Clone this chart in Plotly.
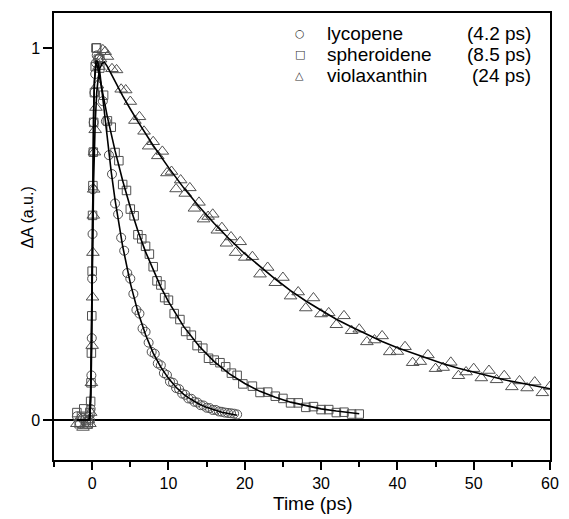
import plotly.graph_objects as go

# ---------------- data ----------------
lyc_t = [-2.0, -1.6, -1.2, -0.8, -0.5, -0.3, -0.2, -0.1, -0.05, 0.0, 0.05, 0.1, 0.15, 0.2, 0.3, 0.4, 0.5, 0.6, 0.8,
         1.0, 1.4, 1.8, 2.2, 2.6, 3.0, 3.4, 3.8, 4.2, 4.6, 5.0, 5.4, 5.8, 6.2, 6.6, 7.0, 7.4, 7.8, 8.2, 8.6,
         9.0, 9.4, 9.8, 10.2, 10.6, 11.0, 11.4, 11.8, 12.2, 12.6, 13.0, 13.4, 13.8, 14.2, 14.6, 15.0, 15.4,
         15.8, 16.2, 16.6, 17.0, 17.4, 17.8, 18.2, 18.6, 19.0]
lyc_v = [0.01, -0.01, 0.005, -0.005, 0.01, 0.0, 0.03, 0.12, 0.22, 0.38, 0.5, 0.62, 0.72, 0.8, 0.88, 0.93, 0.96, 0.98, 0.97,
         0.974, 0.857, 0.803, 0.712, 0.661, 0.582, 0.553, 0.490, 0.455, 0.395, 0.380, 0.339, 0.296, 0.286, 0.246,
         0.237, 0.208, 0.183, 0.178, 0.152, 0.147, 0.126, 0.121, 0.103, 0.100, 0.086, 0.083, 0.071, 0.068, 0.058,
         0.057, 0.049, 0.047, 0.040, 0.039, 0.033, 0.032, 0.027, 0.027, 0.023, 0.022, 0.020, 0.019, 0.018, 0.017, 0.015]

sph_t = [-2.0, -1.7, -1.4, -1.1, -0.8, -0.5, -0.3, -0.2, -0.15, -0.1, -0.05, 0.0, 0.05, 0.1, 0.15, 0.2, 0.3, 0.4, 0.5, 0.6, 0.8,
         1.0, 1.5, 2.0, 2.5, 3.0, 3.5, 4.0, 4.5, 5.0, 5.5, 6.0, 6.5, 7.0, 7.5, 8.0, 8.5, 9.0, 9.5, 10.0,
         10.75, 11.5, 12.25, 13.0, 13.75, 14.5, 15.25, 16.0, 16.75, 17.5, 18.25, 19.0, 19.75,
         21, 22, 23, 24, 25, 26, 27, 28, 29, 30, 31, 32, 33, 34, 35]
sph_v = [0.02, -0.01, 0.01, 0.03, 0.0, -0.01, 0.02, 0.05, 0.1, 0.18, 0.28, 0.4, 0.55, 0.63, 0.72, 0.8, 0.88, 0.95, 1.0, 1.0, 0.97,
         0.946, 0.873, 0.804, 0.787, 0.719, 0.697, 0.633, 0.617, 0.567, 0.549, 0.498, 0.487, 0.467, 0.446, 0.412,
         0.374, 0.363, 0.329, 0.322, 0.286, 0.270, 0.238, 0.228, 0.200, 0.193, 0.166, 0.161, 0.154, 0.143, 0.126,
         0.120, 0.097, 0.091, 0.074, 0.075, 0.064, 0.058, 0.046, 0.046, 0.034, 0.036, 0.028, 0.028, 0.020, 0.021,
         0.016, 0.016]

vio_t = [-2.0, -1.6, -1.2, -0.8, -0.5, -0.3, -0.2, -0.1, 0.0, 0.05, 0.1, 0.15, 0.2, 0.3, 0.4, 0.5, 0.7, 0.9, 1.1, 1.4, 1.7,
         2.0, 2.6, 3.2, 3.8, 4.4, 5.0, 5.6, 6.2, 6.8, 7.4, 8.0, 8.6, 9.2, 9.8, 10.4, 11.0, 11.6, 12.2, 12.8, 13.4,
         14.0, 14.6, 15.2, 15.8, 16.4, 17.0, 17.6, 18.2, 18.8, 19.4, 20.0,
         21, 22, 23, 24, 25, 26, 27, 28, 29, 30, 31, 32, 33, 34, 35, 36, 37, 38, 39, 40,
         41, 42, 43, 44, 45, 46, 47, 48, 49, 50, 51, 52, 53, 54, 55, 56, 57, 58, 59, 60]
vio_v = [-0.01, 0.005, -0.02, -0.015, 0.0, -0.01, 0.02, 0.1, 0.2, 0.33, 0.45, 0.55, 0.62, 0.72, 0.78, 0.84, 0.9, 0.95, 0.97, 0.995, 0.99,
         0.977, 0.944, 0.941, 0.889, 0.887, 0.856, 0.805, 0.815, 0.776, 0.736, 0.748, 0.710, 0.722, 0.664, 0.668,
         0.621, 0.645, 0.609, 0.624, 0.569, 0.585, 0.540, 0.547, 0.553, 0.510, 0.517, 0.475, 0.492, 0.450, 0.479, 0.437,
         0.439, 0.392, 0.410, 0.369, 0.383, 0.333, 0.344, 0.301, 0.328, 0.285, 0.288, 0.256, 0.280, 0.240, 0.244,
         0.210, 0.215, 0.226, 0.183, 0.184, 0.197, 0.154, 0.157, 0.175, 0.138, 0.141, 0.155, 0.119, 0.129, 0.138,
         0.113, 0.133, 0.108, 0.119, 0.089, 0.105, 0.086, 0.102, 0.073, 0.090]

# fitted curves
lyc_fit_t = [-2, -0.4, -0.3, -0.2, -0.1, 0, 0.1, 0.2, 0.3, 0.4, 0.5, 0.7, 1.0, 1.5, 2, 2.5, 3, 4, 5, 6, 7, 8, 9, 10,
             11, 12, 13, 14, 15, 16, 17, 18, 19]
lyc_fit_v = [0, 0, 0.02, 0.07, 0.2, 0.45, 0.68, 0.83, 0.91, 0.95, 0.965, 0.965, 0.935, 0.846, 0.751, 0.667, 0.592,
             0.467, 0.368, 0.290, 0.229, 0.180, 0.142, 0.112, 0.088, 0.069, 0.055, 0.043, 0.034, 0.027, 0.021, 0.017, 0.013]

sph_fit_t = [-2, -0.4, -0.3, -0.2, -0.1, 0, 0.1, 0.2, 0.3, 0.4, 0.5, 0.7, 1.0, 1.5, 2, 3, 4, 5, 6, 7, 8, 9, 10,
             12, 14, 16, 18, 20, 22, 24, 26, 28, 30, 32, 34, 35]
sph_fit_v = [0, 0, 0.02, 0.07, 0.2, 0.45, 0.68, 0.83, 0.91, 0.95, 0.96, 0.95, 0.92, 0.866, 0.814, 0.724, 0.643,
             0.572, 0.508, 0.452, 0.402, 0.357, 0.318, 0.251, 0.199, 0.157, 0.124, 0.098, 0.077, 0.061, 0.048,
             0.038, 0.030, 0.024, 0.019, 0.017]

vio_fit_t = [-2, -0.4, -0.3, -0.2, -0.1, 0, 0.2, 0.4, 0.6, 0.8, 1.0, 1.3, 1.6, 2, 3, 4, 5, 6, 8, 10, 12, 14, 16,
             18, 20, 22, 24, 26, 28, 30, 32, 34, 36, 38, 40, 42, 44, 46, 48, 50, 52, 54, 56, 58, 60]
vio_fit_v = [0, 0, 0.0, 0.05, 0.15, 0.35, 0.65, 0.8, 0.88, 0.92, 0.945, 0.958, 0.962, 0.95, 0.909, 0.871, 0.836,
             0.802, 0.738, 0.679, 0.624, 0.574, 0.528, 0.486, 0.447, 0.412, 0.379, 0.348, 0.320, 0.295, 0.271,
             0.250, 0.230, 0.211, 0.194, 0.179, 0.165, 0.151, 0.139, 0.128, 0.118, 0.108, 0.100, 0.092, 0.084]

names = ["lycopene", "spheroidene", "violaxanthin"]
lifetimes = ["(4.2 ps)", "(8.5 ps)", "(24 ps)"]
legend_glyphs = ["○", "□", "△"]
x_ticks = [0, 10, 20, 30, 40, 50, 60]
y_ticks = [0, 1]

# ---------------- figure ----------------
FONT = "Liberation Sans, Arial, sans-serif"
MCOL = "#505050"
fig = go.Figure()

series = [(lyc_t, lyc_v, "circle-open", 9), (sph_t, sph_v, "square-open", 8.5), (vio_t, vio_v, "triangle-up-open", 11)]
for (t, v, sym, sz), nm in zip(series, names):
    fig.add_trace(go.Scatter(x=t, y=v, mode="markers", showlegend=False, name=nm,
                             marker=dict(symbol=sym, size=sz, color=MCOL, line=dict(width=1, color=MCOL))))

for (t, v), nm in zip([(lyc_fit_t, lyc_fit_v), (sph_fit_t, sph_fit_v), (vio_fit_t, vio_fit_v)], names):
    fig.add_trace(go.Scatter(x=t, y=v, mode="lines", showlegend=False, name=nm + " fit", hoverinfo="skip",
                             line=dict(color="black", width=1.6)))

axis_common = dict(showline=True, linecolor="black", linewidth=1.5, mirror=True, showgrid=False,
                   ticks="outside", tickcolor="black", tickwidth=1.5,
                   tickfont=dict(family=FONT, size=16, color="black"))

fig.update_xaxes(range=[-5, 60], tickvals=x_ticks, ticklen=8, zeroline=False,
                 minor=dict(tickvals=[-5, 5, 15, 25, 35, 45, 55], ticklen=5, tickwidth=1.5,
                            tickcolor="black", ticks="outside"),
                 **axis_common)
fig.update_yaxes(range=[-0.1075, 1.094], tickvals=y_ticks, ticklen=9,
                 zeroline=True, zerolinecolor="black", zerolinewidth=1.8,
                 **axis_common)

# plot area: x 54..559 px, y 13..460 px
def px(xp):
    return (xp - 54) / 505.0

def py(yp):
    return (460 - yp) / 447.0

ann = [dict(text="Time (ps)", xref="paper", yref="paper", x=px(318), y=py(504), xanchor="center",
            yanchor="middle", showarrow=False, font=dict(family=FONT, size=19, color="black")),
       dict(text="ΔA (a.u.)", xref="paper", yref="paper", x=px(27), y=py(217), xanchor="center",
            yanchor="middle", textangle=-90, showarrow=False, font=dict(family=FONT, size=16, color="black"))]
row_px = [33, 54, 75]
for g, nm, lt, yp in zip(legend_glyphs, names, lifetimes, row_px):
    ann.append(dict(text=g, xref="paper", yref="paper", x=px(304), y=py(yp), xanchor="center", yanchor="middle",
                    showarrow=False, font=dict(family="DejaVu Sans", size=11, color="#333")))
    ann.append(dict(text=nm, xref="paper", yref="paper", x=px(330), y=py(yp), xanchor="left", yanchor="middle",
                    showarrow=False, font=dict(family=FONT, size=19, color="black")))
    ann.append(dict(text=lt, xref="paper", yref="paper", x=px(542), y=py(yp), xanchor="right", yanchor="middle",
                    showarrow=False, font=dict(family=FONT, size=19, color="black")))

fig.update_layout(
    width=569, height=519,
    margin=dict(l=54, r=10, t=13, b=59),
    paper_bgcolor="white", plot_bgcolor="white",
    font=dict(family=FONT, color="black"),
    showlegend=False,
    annotations=ann,
)

fig.write_html("out.html")
